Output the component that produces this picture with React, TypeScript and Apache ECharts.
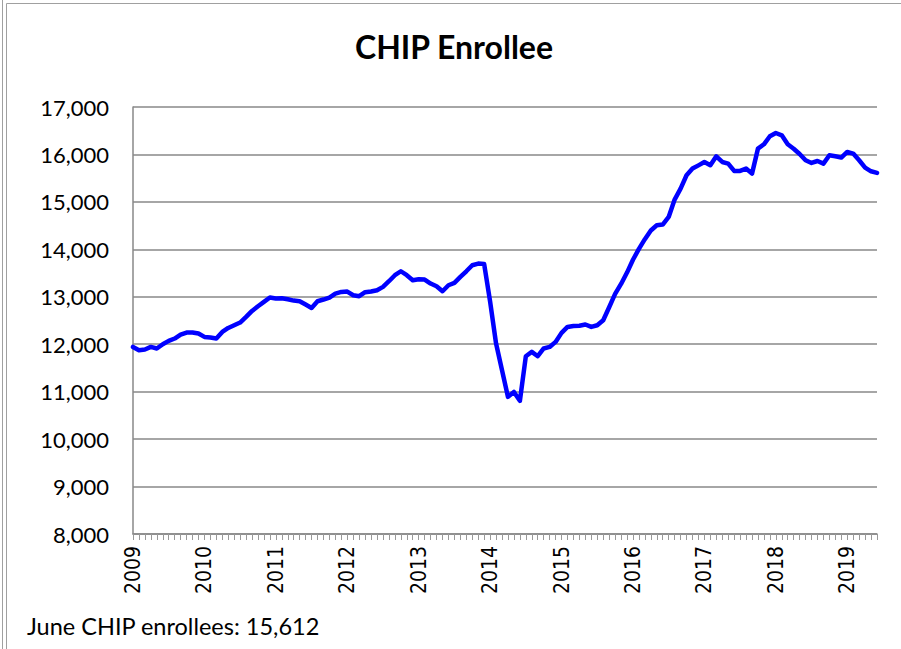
import React, { useEffect, useRef } from "react";
import * as echarts from "echarts";

const years = ["2009", "2010", "2011", "2012", "2013", "2014", "2015", "2016", "2017", "2018", "2019"];
const lastMonth = 6; // June 2019

const enrollees2009 = [11943, 11874, 11889, 11943, 11910, 12000, 12070, 12120, 12204, 12246, 12246, 12225];
const enrollees2010 = [12154, 12141, 12120, 12259, 12343, 12400, 12457, 12575, 12702, 12801, 12892, 12984];
const enrollees2011 = [12963, 12970, 12948, 12920, 12906, 12836, 12765, 12906, 12942, 12984, 13068, 13102];
const enrollees2012 = [13110, 13033, 13012, 13096, 13110, 13138, 13208, 13328, 13454, 13538, 13454, 13349];
const enrollees2013 = [13370, 13363, 13279, 13222, 13117, 13243, 13292, 13418, 13538, 13665, 13700, 13690];
const enrollees2014 = [12900, 12013, 11450, 10890, 10995, 10806, 11747, 11838, 11747, 11910, 11943, 12049];
const enrollees2015 = [12239, 12365, 12385, 12390, 12415, 12365, 12400, 12506, 12780, 13060, 13270, 13510];
const enrollees2016 = [13780, 14010, 14214, 14398, 14508, 14522, 14682, 15049, 15280, 15561, 15702, 15770];
const enrollees2017 = [15841, 15772, 15961, 15841, 15807, 15652, 15652, 15702, 15596, 16123, 16214, 16383];
const enrollees2018 = [16452, 16404, 16214, 16120, 16010, 15877, 15820, 15862, 15807, 15982, 15961, 15934];
const enrollees2019 = [16052, 16018, 15877, 15723, 15645, 15612];

const values = [
  ...enrollees2009, ...enrollees2010, ...enrollees2011, ...enrollees2012,
  ...enrollees2013, ...enrollees2014, ...enrollees2015, ...enrollees2016,
  ...enrollees2017, ...enrollees2018, ...enrollees2019,
];

const months: string[] = [];
years.forEach((y, yi) => {
  const n = yi === years.length - 1 ? lastMonth : 12;
  for (let m = 1; m <= n; m++) months.push(`${y}-${String(m).padStart(2, "0")}`);
});

const yTicks = { min: 8000, max: 17000, interval: 1000 };
const titleText = "CHIP Enrollee";
const footerText = "June CHIP enrollees: 15,612";

export default function App() {
  const ref = useRef<HTMLDivElement>(null);
  useEffect(() => {
    if (!ref.current) return;
    const chart = echarts.init(ref.current, null, { renderer: "svg" });
    const gray = "#898989";
    chart.setOption({
      animation: false,
      backgroundColor: "#ffffff",
      grid: { left: 133, right: 24, top: 107, bottom: 115, containLabel: false },
      xAxis: {
        type: "category",
        data: months,
        boundaryGap: false,
        axisLine: { show: true, lineStyle: { color: gray, width: 1.5 } },
        axisTick: { show: true, interval: 0, length: 6, lineStyle: { color: "#999999", width: 1 } },
        axisLabel: {
          interval: (idx: number) => idx % 12 === 0,
          formatter: (v: string) => v.slice(0, 4),
          rotate: 90,
          margin: 12,
          color: "#000000",
          fontFamily: "'Liberation Sans Narrow', 'DejaVu Sans Condensed', 'DejaVu Sans'",
          fontSize: 21,
        },
        splitLine: { show: false },
      },
      yAxis: {
        type: "value",
        min: yTicks.min,
        max: yTicks.max,
        interval: yTicks.interval,
        axisLine: { show: true, lineStyle: { color: gray, width: 1.5 } },
        axisTick: { show: false },
        axisLabel: {
          margin: 24,
          color: "#000000",
          fontFamily: "Lato",
          fontSize: 22,
          formatter: (v: number) => v.toLocaleString("en-US"),
        },
        splitLine: { show: true, lineStyle: { color: gray, width: 1.5 } },
      },
      series: [
        {
          type: "line",
          data: values,
          symbol: "none",
          lineStyle: { color: "#0000ff", width: 4.5, cap: "round", join: "round" },
          itemStyle: { color: "#0000ff" },
        },
      ],
      graphic: [
        { type: "line", shape: { x1: 2.5, y1: 0, x2: 2.5, y2: 649 }, style: { stroke: "#a0a0a0", lineWidth: 1 } },
        { type: "line", shape: { x1: 6.5, y1: 3.5, x2: 6.5, y2: 649 }, style: { stroke: "#a0a0a0", lineWidth: 1 } },
        { type: "line", shape: { x1: 6.5, y1: 3.5, x2: 901, y2: 3.5 }, style: { stroke: "#a0a0a0", lineWidth: 1 } },
        {
          type: "text",
          x: 454,
          y: 46,
          style: {
            text: titleText,
            fill: "#000000",
            font: "bold 32px Lato",
            align: "center",
            verticalAlign: "middle",
          },
        },
        {
          type: "text",
          x: 27,
          y: 626,
          style: {
            text: footerText,
            fill: "#000000",
            font: "23.5px Lato",
            align: "left",
            verticalAlign: "middle",
          },
        },
      ],
    });
    return () => chart.dispose();
  }, []);
  return (
    <div
      ref={ref}
      style={{ position: "absolute", left: 0, top: 0, width: 901, height: 649 }}
    />
  );
}
